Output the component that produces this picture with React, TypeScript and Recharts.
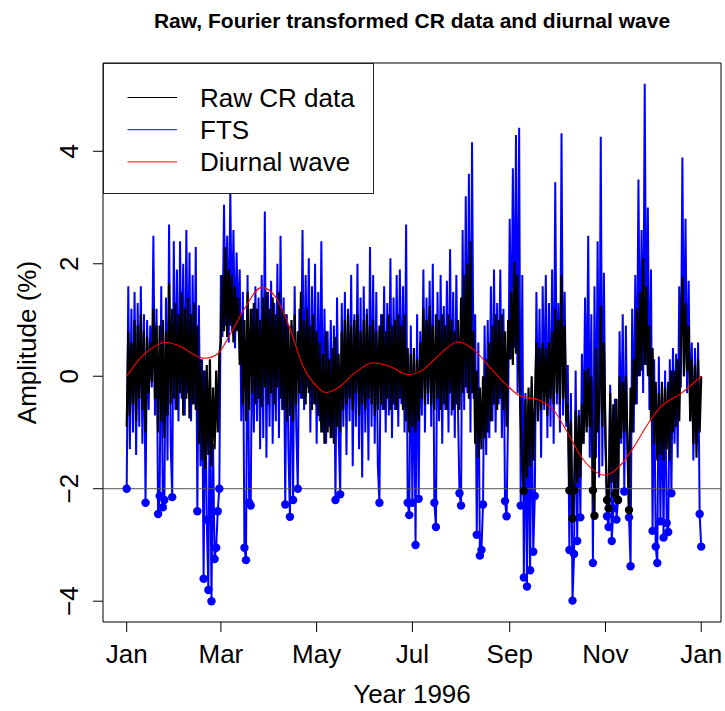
import React from 'react';
import { ComposedChart, Line, XAxis, YAxis, ReferenceLine, ReferenceArea, Legend } from 'recharts';

const FONT = '"Liberation Sans", Arial, Helvetica, sans-serif';

// x axis: day of year 1996 (Jan 1 = 0), tick positions and labels
const monthTicks = [0, 60, 121, 182, 244, 305, 366];
const monthLabels = ['Jan', 'Mar', 'May', 'Jul', 'Sep', 'Nov', 'Jan'];
const amplitudeTicks = [-4, -2, 0, 2, 4];
const xDomain: [number, number] = [-15.1, 378.6];
const yDomain: [number, number] = [-4.37, 5.57];
const markLevel = -2;

// FTS (Fourier transformed series), one value per day
const ftsValues = [
  -2.0, 1.6, -1.3, 1.2, -1.0, 1.5, -1.4, 1.3, -0.9, 1.6,
  -1.2, 1.1, -2.25, 1.0, -0.6, 0.9, -0.2, 2.5, -0.7, 1.2,
  -2.45, -2.13, 1.6, -2.33, -2.2, 1.4, -1.5, 2.7, -1.2, -2.15,
  2.4, -0.6, 1.9, -0.8, 2.4, -0.4, 2.0, -0.7, 2.6, -0.3,
  2.2, -0.8, 1.8, -0.5, 2.3, -2.4, 1.26, -1.6, 0.3, -3.6,
  0.1, -2.55, -3.8, -0.1, -4.0, -1.2, -3.25, -3.05, -2.4, -2.0,
  1.8, 0.7, 3.05, 0.9, 2.5, 0.6, 3.3, 0.8, 2.6, 0.5,
  2.2, 0.9, 1.9, -0.8, 1.5, -3.05, -3.27, 1.8, -2.25, -2.3,
  1.2, -1.0, 1.6, -0.8, 1.4, -1.3, 1.8, -1.1, 2.93, -1.45,
  1.5, -0.9, 1.7, -1.2, 1.3, -0.8, 2.0, -1.1, 2.5, -0.6,
  1.4, -2.28, 1.1, -1.3, -2.5, 0.9, -2.2, 1.6, -0.9, -2.0,
  1.2, -0.4, 2.6, -0.6, 1.8, -0.2, 2.1, -1.0, 1.6, -0.5,
  2.0, -1.2, 1.5, -0.8, 2.4, -1.0, 1.2, -1.2, 0.8, -0.9,
  1.0, -1.1, 0.9, -2.2, 1.4, -1.0, -2.1, 1.3, -0.9, 1.5,
  -1.4, 1.2, -0.8, 1.8, -1.6, 1.1, -0.9, 2.0, -1.3, 1.4,
  -1.8, 1.6, -1.0, 1.2, -1.5, 2.3, -0.9, 1.8, -1.2, 1.5,
  -1.6, -2.25, 1.1, -0.6, 1.6, -1.0, 1.3, -0.7, 2.1, -1.1,
  1.4, -0.6, 1.8, -0.9, 1.9, -0.5, 1.6, -1.0, 2.7, -2.25,
  -2.47, 0.9, -2.25, 0.5, -3.0, 1.1, -2.18, 0.8, -0.7, 1.9,
  -1.0, 1.4, -0.5, 1.7, -0.9, 2.0, -2.25, -2.68, 1.5, -0.8,
  1.8, -1.2, 1.25, -0.6, 1.7, -1.0, 2.26, -0.7, 1.5, -1.1,
  1.8, -0.5, -2.08, -2.3, 2.6, -0.6, 3.2, -0.3, 3.6, -1.0,
  4.16, -0.4, 1.1, -2.82, 0.6, -3.19, -3.09, -2.28, 0.9, -1.4,
  1.0, -1.1, 1.6, -0.8, 1.9, -1.0, 1.3, -0.5, 1.9, -1.1,
  1.2, -2.22, -2.49, -0.6, 2.8, 0.3, 3.7, 0.5, 4.29, -0.3,
  4.42, -2.3, 1.8, -3.58, -0.3, -3.74, -0.5, -3.45, -0.2, -3.12,
  -2.13, 1.5, -0.8, 1.2, -1.45, 1.6, -0.6, 1.8, -1.1, 1.3,
  -0.9, 1.9, -1.2, 3.45, -0.5, 1.3, -1.0, 4.32, -0.7, 1.5,
  -0.9, 0.2, -3.09, -0.3, -3.99, -3.16, 0.1, -2.93, -0.6, -2.51,
  0.4, -1.2, 1.4, -0.9, 2.5, -1.45, 1.1, -3.32, 1.6, -1.45,
  2.4, -1.8, 4.26, -1.6, 1.84, -1.2, -2.49, -2.68, -0.15, -2.93,
  -2.35, -0.4, -2.55, -2.2, 0.8, -1.2, 1.1, -2.05, 0.9, -1.4,
  -2.51, -3.38, 1.2, -1.0, 1.8, -0.5, 3.5, 0.0, 2.6, -0.3,
  5.2, 0.2, 3.0, -0.6, 1.9, -2.75, 0.3, -3.03, -3.32, 0.35,
  -2.58, -0.2, -2.87, 0.1, -2.61, -2.77, 0.3, -2.08, 0.5, -1.2,
  0.4, -1.45, 1.6, -0.2, 3.89, 0.0, 2.8, -0.3, 1.7, -0.8,
  0.6, -1.5, 0.5, -1.2, 0.6, -2.45, -3.03,
];

// Raw cosmic ray data, one value per day
const rawValues = [
  -0.9, 0.8, -0.7, 0.6, -0.5, 1.0, -0.8, 0.9, -0.4, 1.1,
  -0.6, 0.8, -1.0, 0.7, -0.3, 0.6, -0.1, 1.2, -0.4, 0.9,
  -1.0, 0.9, -0.8, 1.0, -1.1, 0.8, -0.7, 1.65, -0.5, 1.2,
  -0.4, 1.3, -0.6, 1.1, -0.3, 1.5, -0.7, 1.2, -0.4, 1.4,
  -0.75, 1.1, -0.5, 1.3, -0.6, 0.9, -1.2, 0.3, -1.5, 0.1,
  -1.65, 0.2, -1.4, 0.3, -1.6, -0.2, -1.3, 0.1, -1.0, 0.4,
  0.6, 1.8, 0.8, 2.3, 0.7, 1.9, 0.9, 1.8, 0.6, 1.6,
  0.8, 1.4, 0.2, 1.1, -0.5, 1.0, -0.8, 1.5, -0.6, 1.2,
  -0.3, 1.3, -0.5, 1.2, -0.4, 1.0, -0.55, 1.4, -0.2, 1.5,
  -0.5, 1.2, -0.3, 1.4, -0.5, 1.1, -0.2, 1.5, -0.4, 1.2,
  -0.6, 1.1, -0.8, 0.9, -0.7, 1.0, -0.8, 1.1, -0.5, 0.8,
  -0.3, 1.5, -0.4, 1.0, -0.5, 1.2, -0.3, 0.9, -0.6, 1.1,
  -0.5, 0.8, -0.7, 0.6, -1.0, 0.4, -1.2, 0.8, -1.0, 0.3,
  -1.1, 0.5, -1.2, 0.7, -0.9, 0.4, -1.0, 0.8, -0.6, 1.0,
  -0.5, 1.1, -0.4, 0.9, -0.6, 1.0, -0.3, 1.1, -0.7, 0.8,
  -0.5, 1.0, -0.6, 1.1, -0.4, 0.9, -0.5, 1.0, -0.7, 0.8,
  -0.6, 0.9, -0.5, 1.1, -0.6, 0.8, -0.4, 1.1, -0.6, 0.9,
  -0.5, 1.0, -0.6, 1.1, -0.4, 0.9, -0.6, 1.1, -0.8, 0.5,
  -1.0, 0.4, -0.9, 0.5, -1.0, 0.3, -0.8, 0.6, -0.4, 1.2,
  -0.5, 1.0, -0.3, 1.25, -0.5, 0.9, -0.6, 1.1, -0.4, 1.0,
  -0.6, 1.1, -0.5, 0.9, -0.6, 1.1, -0.3, 1.0, -0.6, 0.8,
  -0.5, 1.0, -0.6, 1.4, -0.3, 1.8, -0.2, 2.0, -0.4, 2.4,
  -0.3, 0.8, -1.2, 0.1, -1.45, -0.2, -1.3, 0.0, -1.1, 0.3,
  -1.0, 0.6, -0.8, 0.9, -0.5, 1.1, -0.6, 1.0, -0.4, 1.1,
  -0.6, 0.8, -0.9, 1.0, 0.3, 1.5, 0.2, 2.03, 0.4, 1.8,
  0.15, -0.8, -1.6, -2.04, -0.4, -1.8, -0.2, -1.6, 0.0, -1.5,
  -0.5, 0.6, -0.8, 0.5, -0.6, 0.6, -0.5, 0.5, -0.7, 0.6,
  -0.4, 0.8, -0.5, 1.2, -0.3, 1.0, -0.5, 1.8, -0.4, 0.9,
  -0.8, -0.5, -2.03, -0.8, -2.53, -2.03, -0.6, -1.9, -0.7, -1.8,
  -0.5, -1.2, 0.1, -1.0, 0.15, -0.9, 0.0, -2.03, -2.48, 0.5,
  -1.0, -0.6, 1.26, -0.9, 0.6, -1.1, -2.2, -2.35, -0.3, -1.9,
  -0.5, -2.09, -0.4, -2.2, 0.0, -1.1, -0.1, -1.0, 0.0, -1.1,
  -2.38, -0.2, -1.0, 0.3, -0.5, 1.2, 0.0, 1.5, 0.1, 2.1,
  0.2, 1.6, 0.0, 0.9, -0.8, 0.5, -1.2, -0.1, -1.5, -0.3,
  -1.4, -0.1, -1.5, -0.2, -1.3, -0.1, -1.5, 0.1, -1.0, 0.1,
  -0.9, 0.3, -0.8, 0.6, 1.77, 0.0, 1.3, 0.1, 0.9, -0.8,
  0.3, -1.2, 0.2, -1.45, 0.3, -1.0, 0.0,
];

// Diurnal wave: smooth curve sampled at these days
const waveDays = [0, 8, 16, 25, 35, 43, 50, 58, 66, 75, 86, 95, 104, 112, 120, 127, 135, 145, 157, 168, 179, 188, 198, 211, 222, 231, 240, 250, 263, 272, 280, 290, 305, 314, 323, 332, 340, 353, 366];
const waveValues = [0.0, 0.3, 0.5, 0.6, 0.52, 0.38, 0.32, 0.4, 0.75, 1.2, 1.58, 1.4, 0.85, 0.2, -0.15, -0.29, -0.2, 0.05, 0.24, 0.17, 0.03, 0.1, 0.35, 0.61, 0.45, 0.17, -0.1, -0.34, -0.43, -0.6, -0.96, -1.45, -1.76, -1.6, -1.26, -0.85, -0.55, -0.31, 0.0];

const legendItems = [
  { label: 'Raw CR data', color: '#000000' },
  { label: 'FTS', color: '#0000ff' },
  { label: 'Diurnal wave', color: '#ff0000' },
];

const ftsData = ftsValues.map((v, i) => ({ day: i, v }));
const rawData = rawValues.map((v, i) => ({ day: i, v }));
const waveData = waveDays.map((d, i) => ({ day: d, v: waveValues[i] }));

const makeDot = (color: string) => (props: any) => {
  const { cx, cy, payload, index } = props;
  if (payload.v > markLevel + 0.005 || cx == null || cy == null) return <g key={`e${index}`} />;
  return <circle key={`d${index}`} cx={cx} cy={cy} r={4.2} fill={color} stroke="none" />;
};

const XTick = (props: any) => {
  const { x, y, payload } = props;
  const idx = monthTicks.indexOf(payload.value);
  return (
    <text x={x} y={y} textAnchor="middle" fontSize={26} fontFamily={FONT} fill="#000">
      {monthLabels[idx]}
    </text>
  );
};

const YTick = (props: any) => {
  const { x, y, payload } = props;
  const v = payload.value;
  const label = v < 0 ? `\u2212${Math.abs(v)}` : `${v}`;
  return (
    <text x={x} y={y} transform={`rotate(-90 ${x} ${y})`} textAnchor="middle" fontSize={26} fontFamily={FONT} fill="#000">
      {label}
    </text>
  );
};

const LegendBox = () => (
  <div style={{ width: 271, height: 131, boxSizing: 'border-box', border: '1px solid #222', background: '#fff' }}>
    <svg width={269} height={129} style={{ display: 'block' }}>
      {legendItems.map((it, i) => {
        const cy = 33.5 + i * 32.2;
        return (
          <g key={it.label}>
            <line x1={23.5} x2={73} y1={cy} y2={cy} stroke={it.color} strokeWidth={1} />
            <text x={96} y={cy + 9.3} fontSize={26} fontFamily={FONT} fill="#000">{it.label}</text>
          </g>
        );
      })}
    </svg>
  </div>
);

export default function App() {
  return (
    <div style={{ position: 'absolute', left: 0, top: 0, width: 725, height: 711, background: '#fff' }}>
      <div style={{ position: 'absolute', left: 0, top: 0 }}>
        <ComposedChart width={725} height={711} margin={{ top: 63, right: 4, bottom: 0, left: 0 }}>
          <XAxis
            type="number"
            dataKey="day"
            domain={xDomain}
            allowDataOverflow
            ticks={monthTicks}
            interval={0}
            tick={<XTick />}
            tickSize={10}
            tickMargin={31}
            tickLine={{ stroke: '#000' }}
            axisLine={false}
            height={89}
          />
          <YAxis
            type="number"
            domain={yDomain}
            allowDataOverflow
            ticks={amplitudeTicks}
            interval={0}
            tick={<YTick />}
            tickSize={10}
            tickMargin={15}
            tickLine={{ stroke: '#000' }}
            axisLine={false}
            width={103}
          />
          <ReferenceArea x1={xDomain[0]} x2={xDomain[1]} y1={yDomain[0]} y2={yDomain[1]} fill="none" fillOpacity={0} stroke="#000" strokeWidth={1} ifOverflow="visible" />
          <Line data={ftsData} dataKey="v" name="FTS" type="linear" stroke="#0000ff" strokeWidth={2} strokeLinejoin="miter" strokeMiterlimit={3} dot={makeDot('#0000ff')} activeDot={false} isAnimationActive={false} />
          <Line data={rawData} dataKey="v" name="Raw CR data" type="linear" stroke="#000000" strokeWidth={2.2} strokeLinejoin="miter" strokeMiterlimit={3} dot={makeDot('#000000')} activeDot={false} isAnimationActive={false} />
          <ReferenceLine y={markLevel} stroke="#555" strokeWidth={1} ifOverflow="visible" />
          <Line data={waveData} dataKey="v" name="Diurnal wave" type="monotone" stroke="#ff0000" strokeWidth={1.1} dot={false} activeDot={false} isAnimationActive={false} />
          <Legend
            layout="horizontal"
            verticalAlign="middle"
            align="center"
            content={<LegendBox />}
            wrapperStyle={{ left: 103, top: 63, width: 271, height: 131 }}
          />
        </ComposedChart>
      </div>
      <svg width={725} height={711} style={{ position: 'absolute', left: 0, top: 0, pointerEvents: 'none' }}>
        <text x={412} y={28} textAnchor="middle" fontSize={21} fontWeight="bold" fontFamily={FONT} fill="#000">
          Raw, Fourier transformed CR data and diurnal wave
        </text>
        <text x={412} y={703} textAnchor="middle" fontSize={26} fontFamily={FONT} fill="#000">
          Year 1996
        </text>
        <text x={36} y={342.5} transform="rotate(-90 36 342.5)" textAnchor="middle" fontSize={26} fontFamily={FONT} fill="#000">
          Amplitude (%)
        </text>
      </svg>
    </div>
  );
}
